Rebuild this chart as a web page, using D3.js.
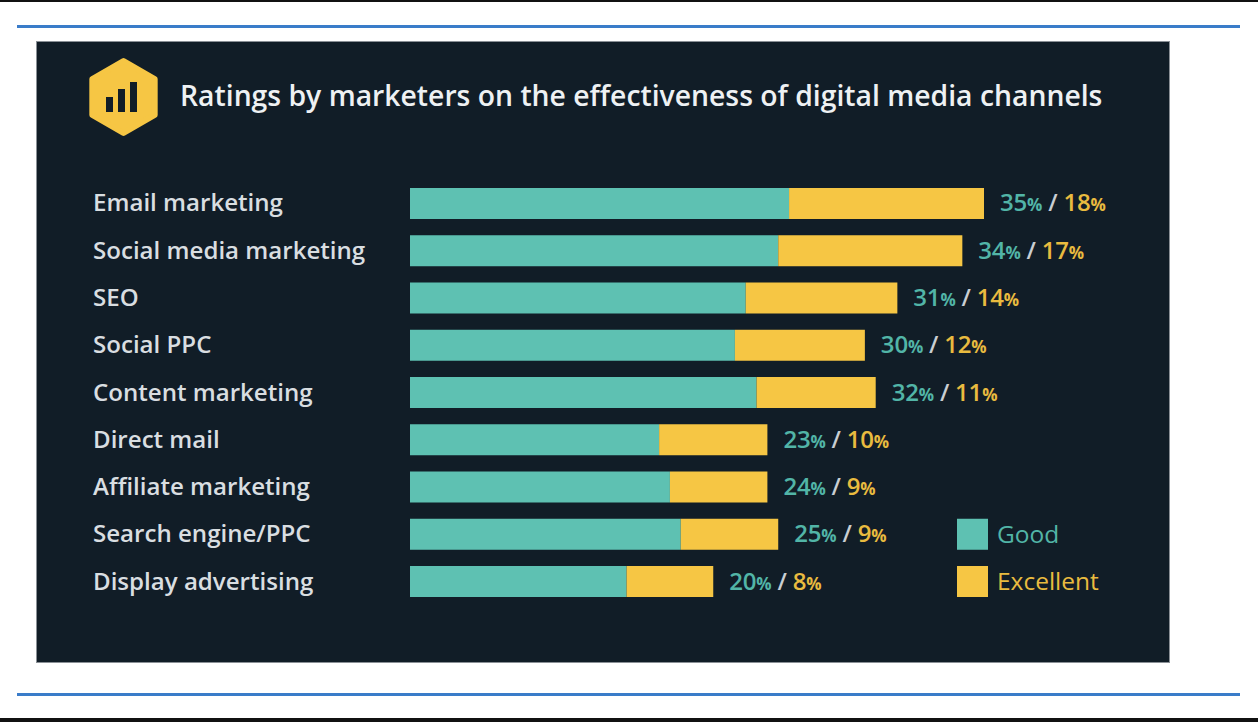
<!DOCTYPE html>
<html>
<head>
  <meta charset="utf-8">
  <title>digital media channels</title>
  <script src="https://cdnjs.cloudflare.com/ajax/libs/d3/7.8.5/d3.min.js"></script>
  <style>
    body { margin: 0; background: #ffffff; }
    svg { display: block; }
    text { font-family: 'Open Sans', sans-serif; }
  </style>
</head>
<body>
<script>

  var categories = ['Email marketing', 'Social media marketing', 'SEO', 'Social PPC', 'Content marketing',
                    'Direct mail', 'Affiliate marketing', 'Search engine/PPC', 'Display advertising'];
  var good = [35, 34, 31, 30, 32, 23, 24, 25, 20];
  var excellent = [18, 17, 14, 12, 11, 10, 9, 9, 8];
  var seriesNames = ['Good', 'Excellent'];
  var title = 'Ratings by marketers on the effectiveness of digital media channels';

  var W = 1258, H = 722;
  var teal = '#5ec1b2', yellow = '#f6c644';
  var tealText = '#52b5a7', yellowText = '#e9bb3f';

  var svg = d3.select('body').append('svg')
      .attr('width', W)
      .attr('height', H);

  // page frame
  svg.append('rect').attr('x', 0).attr('y', 0).attr('width', W).attr('height', H).attr('fill', '#fff');
  svg.append('rect').attr('x', 0).attr('y', 0).attr('width', W).attr('height', 2).attr('fill', '#111');
  svg.append('rect').attr('x', 0).attr('y', 718).attr('width', W).attr('height', 4).attr('fill', '#111');
  svg.append('rect').attr('x', 17).attr('y', 25).attr('width', 1223).attr('height', 3).attr('fill', '#3a7cc9');
  svg.append('rect').attr('x', 17).attr('y', 693).attr('width', 1223).attr('height', 3).attr('fill', '#3a7cc9');

  // dark panel
  svg.append('rect')
      .attr('x', 36).attr('y', 41).attr('width', 1134).attr('height', 622)
      .attr('fill', '#8a9096');
  svg.append('rect')
      .attr('x', 37).attr('y', 42).attr('width', 1132).attr('height', 620)
      .attr('fill', '#111d27');

  // icon
  var cx = 123.5, cy = 97, r = 36;
  var hex = d3.range(6).map(function(i) {
    var a = Math.PI / 3 * i - Math.PI / 2;
    return [cx + r * Math.cos(a), cy + r * Math.sin(a)];
  });
  svg.append('path')
      .attr('d', 'M' + hex.join('L') + 'Z')
      .attr('fill', yellow)
      .attr('stroke', yellow)
      .attr('stroke-width', 6)
      .attr('stroke-linejoin', 'round');
  var iconBars = [[106, 97], [118, 89], [130, 82]];
  svg.selectAll('.ib').data(iconBars).enter().append('rect')
      .attr('x', function(d) { return d[0]; })
      .attr('y', function(d) { return d[1]; })
      .attr('width', 7)
      .attr('height', function(d) { return 112 - d[1]; })
      .attr('fill', '#111d27');

  var t = svg.append('text')
      .attr('x', 180).attr('y', 106)
      .attr('fill', '#eef1f3')
      .attr('font-size', 25)
      .attr('font-weight', 600)
      .text(title);
  var tl = t.node().getComputedTextLength();
  t.attr('font-size', 25 * 923 / tl);

  // scales
  var x = d3.scaleLinear().domain([0, 53]).range([410, 984]);
  var y = d3.scaleBand().domain(categories).range([188, 597]).paddingInner(0.344).paddingOuter(0);

  var rows = categories.map(function(c, i) {
    return {cat: c, good: good[i], exc: excellent[i]};
  });

  var g = svg.append('g');
  var row = g.selectAll('.row').data(rows).enter().append('g').attr('class', 'row');

  row.append('rect')
      .attr('x', x(0))
      .attr('y', function(d) { return y(d.cat); })
      .attr('width', function(d) { return x(d.good) - x(0); })
      .attr('height', y.bandwidth())
      .attr('fill', teal);

  row.append('rect')
      .attr('x', function(d) { return x(d.good); })
      .attr('y', function(d) { return y(d.cat); })
      .attr('width', function(d) { return x(d.good + d.exc) - x(d.good); })
      .attr('height', y.bandwidth())
      .attr('fill', yellow);

  // category labels
  var cl = row.append('text')
      .attr('x', 93)
      .attr('y', function(d) { return y(d.cat) + y.bandwidth() / 2 + 8; })
      .attr('fill', '#d9dee1')
      .attr('font-size', 22)
      .attr('font-weight', 600)
      .text(function(d) { return d.cat; });
  var cw = cl.node().getComputedTextLength();
  cl.attr('font-size', 22 * 190 / cw);

  // value labels
  var vl = row.append('text')
      .attr('x', function(d) { return x(d.good + d.exc) + 16; })
      .attr('y', function(d) { return y(d.cat) + y.bandwidth() / 2 + 8; })
      .attr('font-size', 24)
      .attr('font-weight', 600)
      .attr('letter-spacing', -0.2);
  vl.append('tspan').attr('fill', tealText).text(function(d) { return d.good; });
  vl.append('tspan').attr('fill', tealText).attr('font-size', 17).attr('font-weight', 700).text('%');
  vl.append('tspan').attr('fill', '#c9ced2').text(' / ');
  vl.append('tspan').attr('fill', yellowText).text(function(d) { return d.exc; });
  vl.append('tspan').attr('fill', yellowText).attr('font-size', 17).attr('font-weight', 700).text('%');

  // legend
  var legend = svg.append('g').selectAll('.lg').data(seriesNames).enter().append('g')
      .attr('transform', function(d, i) { return 'translate(957,' + (y(categories[7 + i])) + ')'; });
  legend.append('rect')
      .attr('width', 31).attr('height', 31)
      .attr('fill', function(d, i) { return i === 0 ? teal : yellow; });
  legend.append('text')
      .attr('x', 40).attr('y', 24)
      .attr('font-size', 24.5)
      .attr('font-weight', 500)
      .attr('fill', function(d, i) { return i === 0 ? tealText : yellowText; })
      .text(function(d) { return d; });

</script>
</body>
</html>
